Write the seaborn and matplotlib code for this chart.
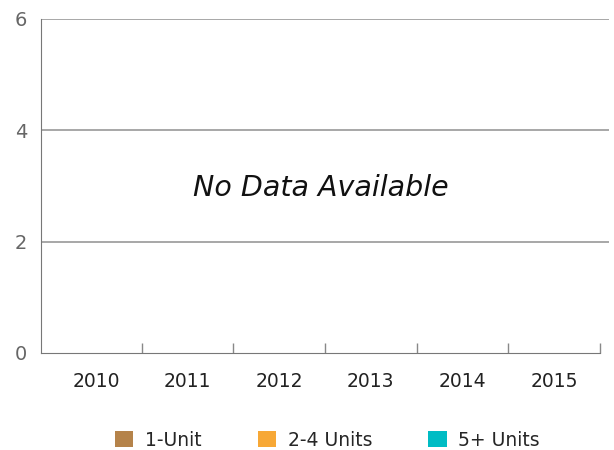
import matplotlib
matplotlib.use("Agg")
import matplotlib.pyplot as plt
import seaborn as sns
import pandas as pd
from matplotlib.patches import Patch

years = ["2010", "2011", "2012", "2013", "2014", "2015"]
series = ["1-Unit", "2-4 Units", "5+ Units"]
colors = ["#B5834A", "#F7A836", "#00BCC4"]
values_1unit = [0, 0, 0, 0, 0, 0]
values_24 = [0, 0, 0, 0, 0, 0]
values_5plus = [0, 0, 0, 0, 0, 0]
yticks = [0, 2, 4, 6]

sns.set_style("white")
plt.rcParams["font.family"] = ["DejaVu Sans"]

rows = []
for name, vals in zip(series, [values_1unit, values_24, values_5plus]):
    for y, v in zip(years, vals):
        rows.append({"Year": y, "Type": name, "Value": v})
df = pd.DataFrame(rows)

fig = plt.figure(figsize=(6.14, 4.5), dpi=100)
ax = fig.add_axes([41/614, 1-353/450, (609-41)/614, (353-19)/450])
sns.barplot(data=df, x="Year", y="Value", hue="Type", palette=colors, ax=ax, legend=False)

ax.set_xlim(-0.6, 5.6)
ax.set_ylim(0, 6)
ax.set_yticks(yticks)
ax.set_yticklabels([str(t) for t in yticks], color="#666666", fontsize=14)
ax.tick_params(axis="y", length=0, pad=10)
ax.set_xticks(range(len(years)))
ax.set_xticklabels(years, fontsize=13.5, color="#222222")
ax.tick_params(axis="x", which="major", length=0, pad=14)
ax.set_xticks([i + 0.5 for i in range(len(years))], minor=True)
ax.tick_params(axis="x", which="minor", bottom=True, length=7, direction="in",
               color="#888888", width=1)
ax.set_xlabel("")
ax.set_ylabel("")

for t in yticks[1:]:
    ax.axhline(t, color="#A0A0A0", lw=1.3, zorder=0)

for s in ["top", "right"]:
    ax.spines[s].set_visible(False)
ax.spines["left"].set_color("#777777")
ax.spines["bottom"].set_color("#777777")
ax.spines["bottom"].set_bounds(-0.6, 5.5)

ax.text(0.493, 0.494, "No Data Available", transform=ax.transAxes, ha="center", va="center",
        fontsize=20.5, style="italic", color="#111111")

handles = [Patch(facecolor=c, edgecolor="none", label=s) for c, s in zip(colors, series)]
fig.legend(handles=handles, loc="center", bbox_to_anchor=(0.533, 1-440/450), ncol=3,
           frameon=False, fontsize=13.5, handlelength=1.0, handleheight=1.0,
           columnspacing=3.0, handletextpad=0.6, borderpad=0)

fig.savefig("out.png", dpi=100)
